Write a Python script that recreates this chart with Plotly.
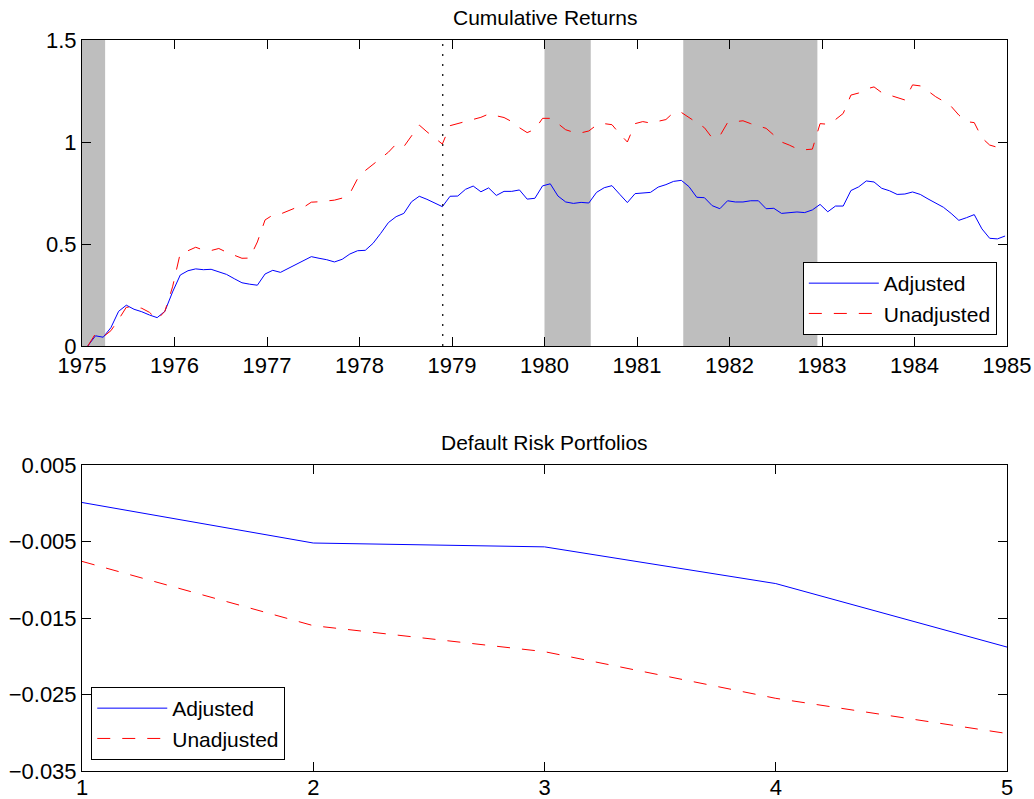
import numpy as np
import plotly.graph_objects as go

# ---------------- data ----------------
# monthly cumulative returns, 120 months from early 1975
adjusted = [
    0.00, 0.05, 0.043, 0.09, 0.17, 0.20, 0.18, 0.168, 0.152, 0.139,
    0.17, 0.265, 0.348, 0.369, 0.378, 0.374, 0.376, 0.363, 0.351, 0.33,
    0.31, 0.303, 0.298, 0.353, 0.371, 0.361, 0.381, 0.399, 0.418, 0.438,
    0.43, 0.423, 0.412, 0.425, 0.451, 0.467, 0.469, 0.503, 0.552, 0.605,
    0.634, 0.65, 0.707, 0.734, 0.719, 0.703, 0.683, 0.734, 0.735, 0.768,
    0.784, 0.756, 0.775, 0.738, 0.758, 0.758, 0.765, 0.72, 0.724, 0.785,
    0.795, 0.735, 0.706, 0.699, 0.704, 0.701, 0.753, 0.776, 0.786, 0.744,
    0.703, 0.747, 0.75, 0.753, 0.779, 0.791, 0.807, 0.812, 0.781, 0.729,
    0.727, 0.688, 0.673, 0.712, 0.706, 0.706, 0.712, 0.712, 0.673, 0.675,
    0.65, 0.652, 0.657, 0.654, 0.667, 0.694, 0.658, 0.686, 0.686, 0.762,
    0.78, 0.809, 0.804, 0.773, 0.761, 0.743, 0.745, 0.755, 0.743, 0.721,
    0.699, 0.68, 0.65, 0.616, 0.629, 0.644, 0.574, 0.528, 0.525, 0.539,
]
unadjusted = [
    0.00, 0.06, 0.045, 0.075, 0.13, 0.19, 0.19, 0.185, 0.165, 0.13,
    0.17, 0.29, 0.455, 0.467, 0.484, 0.47, 0.468, 0.478, 0.46, 0.446,
    0.43, 0.431, 0.51, 0.618, 0.642, 0.647, 0.663, 0.678, 0.68, 0.705,
    0.707, 0.71, 0.715, 0.725, 0.748, 0.82, 0.86, 0.89, 0.92, 0.95,
    0.99, 0.977, 1.03, 1.083, 1.05, 1.018, 0.99, 1.08, 1.09, 1.10,
    1.11, 1.121, 1.137, 1.13, 1.12, 1.10, 1.07, 1.046, 1.062, 1.116,
    1.116, 1.09, 1.06, 1.048, 1.045, 1.054, 1.083, 1.09, 1.085, 1.04,
    1.0, 1.09, 1.10, 1.093, 1.10, 1.11, 1.145, 1.145, 1.12, 1.095,
    1.07, 1.02, 1.03, 1.095, 1.10, 1.104, 1.09, 1.08, 1.067, 1.034,
    1.0, 0.985, 0.967, 0.962, 0.965, 1.09, 1.087, 1.11, 1.14, 1.23,
    1.24, 1.26, 1.27, 1.242, 1.23, 1.215, 1.206, 1.28, 1.275, 1.25,
    1.222, 1.20, 1.175, 1.132, 1.10, 1.095, 1.02, 0.985, 0.974, 0.975,
]
months = np.arange(len(adjusted))
dates = 1975 + (months + 0.75) / 12.0   # decimal-year time stamps

recessions = [(1975.0, 1975.25), (1980.0, 1980.5), (1981.5, 1982.95)]
event_date = 1978.9

year_ticks = list(range(1975, 1986))
ret_ticks = [0, 0.5, 1, 1.5]
ret_ticktext = ["0", "0.5", "1", "1.5"]

portfolios = [1, 2, 3, 4, 5]
port_adjusted = [0.0001, -0.0052, -0.0057, -0.0105, -0.0188]
port_unadjusted = [-0.0076, -0.0160, -0.0194, -0.0255, -0.0301]
port_yticks = [0.005, -0.005, -0.015, -0.025, -0.035]
port_yticktext = ["0.005", "\u22120.005", "\u22120.015", "\u22120.025", "\u22120.035"]

# ---------------- figure ----------------
FONT = "Liberation Sans, Arial, Helvetica, sans-serif"
BLUE = "#0000FF"
RED = "#FF0000"
DASH = "13px,12px"

fig = go.Figure()

fig.add_trace(go.Scatter(x=dates, y=adjusted, mode="lines", name="Adjusted",
                         line=dict(color=BLUE, width=1), xaxis="x", yaxis="y",
                         legend="legend"))
fig.add_trace(go.Scatter(x=dates, y=unadjusted, mode="lines", name="Unadjusted",
                         line=dict(color=RED, width=1, dash=DASH), xaxis="x", yaxis="y",
                         legend="legend"))
fig.add_trace(go.Scatter(x=portfolios, y=port_adjusted, mode="lines", name="Adjusted",
                         line=dict(color=BLUE, width=1), xaxis="x2", yaxis="y2",
                         legend="legend2"))
fig.add_trace(go.Scatter(x=portfolios, y=port_unadjusted, mode="lines", name="Unadjusted",
                         line=dict(color=RED, width=1, dash=DASH), xaxis="x2", yaxis="y2",
                         legend="legend2"))

for (a, b) in recessions:
    fig.add_shape(type="rect", xref="x", yref="y", x0=a, x1=b, y0=0, y1=1.5,
                  fillcolor="#bebebe", line=dict(width=0), layer="below")
fig.add_shape(type="line", xref="x", yref="y", x0=event_date, x1=event_date, y0=0, y1=1.5,
              line=dict(color="black", width=1.2, dash="2px,8px"))

axis_common = dict(showline=True, linecolor="black", linewidth=1, mirror="allticks",
                   ticks="inside", ticklen=9, tickcolor="black", tickwidth=1,
                   showgrid=False, zeroline=False, automargin=False,
                   tickfont=dict(family=FONT, size=22, color="black"))

H_TOP = [425 / 731, 1.0]
H_BOT = [0.0, 306 / 731]

fig.update_layout(
    width=1034, height=799,
    margin=dict(l=82, r=27, t=40, b=28),
    paper_bgcolor="white", plot_bgcolor="white",
    font=dict(family=FONT, size=21, color="black"),
    xaxis=dict(domain=[0, 1], anchor="y", range=[1975, 1985], tickvals=year_ticks,
               ticktext=[str(y) for y in year_ticks], **axis_common),
    yaxis=dict(domain=H_TOP, anchor="x", range=[0, 1.5], tickvals=ret_ticks,
               ticktext=ret_ticktext, **axis_common),
    xaxis2=dict(domain=[0, 1], anchor="y2", range=[1, 5], tickvals=portfolios,
                ticktext=[str(p) for p in portfolios], ticklabelstandoff=-3,
                **axis_common),
    yaxis2=dict(domain=H_BOT, anchor="x2", range=[-0.035, 0.005], tickvals=port_yticks,
                ticktext=port_yticktext, **axis_common),
    legend=dict(x=0.989, xanchor="right", y=436 / 731, yanchor="bottom",
                bgcolor="white", bordercolor="black", borderwidth=1,
                font=dict(family=FONT, size=21, color="black"), itemwidth=70,
                tracegroupgap=0),
    legend2=dict(x=0.01, xanchor="left", y=11 / 731, yanchor="bottom",
                 bgcolor="white", bordercolor="black", borderwidth=1,
                 font=dict(family=FONT, size=21, color="black"), itemwidth=70,
                 tracegroupgap=0),
    showlegend=True,
)

fig.add_annotation(text="Cumulative Returns", xref="x domain", yref="y domain",
                   x=0.5, y=1, yanchor="bottom", yshift=9, showarrow=False,
                   font=dict(family=FONT, size=21, color="black"))
fig.add_annotation(text="Default Risk Portfolios", xref="x2 domain", yref="y2 domain",
                   x=0.5, y=1, yanchor="bottom", yshift=9, showarrow=False,
                   font=dict(family=FONT, size=21, color="black"))

fig.write_html(
    "out.html",
    config={"displayModeBar": False},
    post_script="document.body.style.margin='0';document.body.style.overflow='hidden';",
)
